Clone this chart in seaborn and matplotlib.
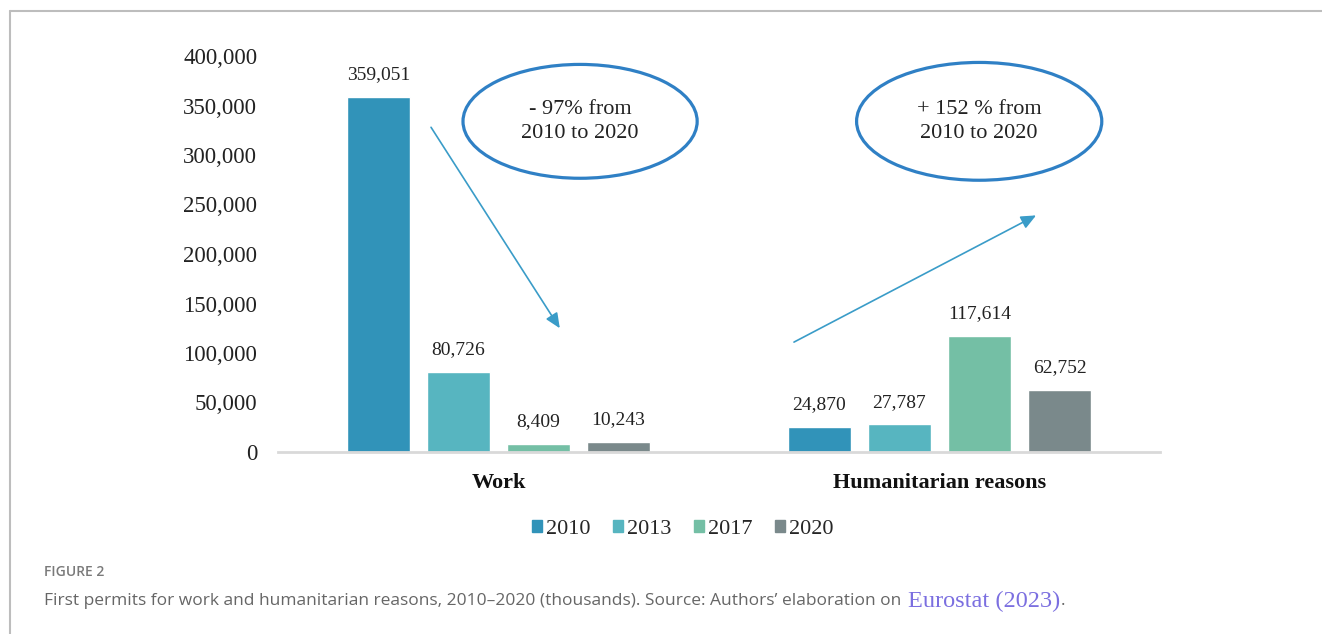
import numpy as np
import pandas as pd
import matplotlib
matplotlib.use('Agg')
import matplotlib.pyplot as plt
from matplotlib.patches import Ellipse
from matplotlib.lines import Line2D
import seaborn as sns

sns.set_style('white')
plt.rcParams['font.family'] = ['Liberation Serif', 'DejaVu Serif']

# %% Data
categories = ['Work', 'Humanitarian reasons']
years = ['2010', '2013', '2017', '2020']
work_values = [359051, 80726, 8409, 10243]
humanitarian_values = [24870, 27787, 117614, 62752]
year_colors = ['#3193b9', '#57b5c0', '#74bfa5', '#7a898b']

rows = []
for cat, vals in zip(categories, [work_values, humanitarian_values]):
    for yr, v in zip(years, vals):
        rows.append([cat, yr, v])
df = pd.DataFrame(rows, columns=['reason', 'year', 'permits'])

# %% Figure
W, H = 1322, 634
fig = plt.figure(figsize=(W / 100, H / 100), dpi=100)
ax = fig.add_axes([278 / W, 1 - 452 / H, 882 / W, 396 / H])

sns.barplot(data=df, x='reason', y='permits', hue='year', order=categories,
            hue_order=years, palette=year_colors, width=0.726, gap=0.21,
            saturation=1, ax=ax)

for cont in ax.containers:
    ax.bar_label(cont, labels=['{:,}'.format(int(v)) for v in cont.datavalues],
                 padding=10, fontsize=14, color='#222222')

ax.set_ylim(0, 400000)
ax.set_xlim(-0.5, 1.5)
ax.set_yticks(np.arange(0, 400001, 50000))
ax.set_yticklabels(['{:,}'.format(v) for v in range(0, 400001, 50000)], fontsize=16.5)
ax.tick_params(axis='y', length=0, pad=15, labelcolor='#222222')
ax.tick_params(axis='x', length=0, pad=15)
for lab in ax.get_xticklabels():
    lab.set_fontweight('bold')
    lab.set_fontsize(16)
    lab.set_color('#111111')
ax.set_xlabel('')
ax.set_ylabel('')
sns.despine(ax=ax, left=True)
ax.spines['bottom'].set_color('#d9d9d9')
ax.spines['bottom'].set_linewidth(2)

# legend
handles = [plt.Rectangle((0, 0), 1, 1, color=c) for c in year_colors]
ax.legend(handles, years, loc='center', bbox_to_anchor=(0.459, -0.196),
          ncol=4, frameon=False, fontsize=16, handlelength=0.45,
          handleheight=0.45, handletextpad=0.2, columnspacing=1.0)

# %% Annotations: ellipses and trend arrows
ell_color = '#2f80c5'
ax.add_patch(Ellipse((0.185, 334000), 0.531, 115000, fill=False,
                     edgecolor=ell_color, linewidth=2.3, clip_on=False))
ax.add_patch(Ellipse((1.090, 334000), 0.556, 119000, fill=False,
                     edgecolor=ell_color, linewidth=2.3, clip_on=False))
ax.text(0.185, 334000, '- 97% from\n2010 to 2020', ha='center', va='center',
        fontsize=16, color='#222222', linespacing=1.4)
ax.text(1.090, 334000, '+ 152 % from\n2010 to 2020', ha='center', va='center',
        fontsize=16, color='#222222', linespacing=1.4)

arrow_color = '#3a9cc8'
ax.annotate('', xy=(0.139, 125000), xytext=(-0.153, 328000),
            arrowprops=dict(arrowstyle='-|>,head_length=0.9,head_width=0.4',
                            color=arrow_color, lw=1.2, shrinkA=0, shrinkB=0))
ax.annotate('', xy=(1.219, 239000), xytext=(0.670, 111000),
            arrowprops=dict(arrowstyle='-|>,head_length=0.9,head_width=0.4',
                            color=arrow_color, lw=1.2, shrinkA=0, shrinkB=0))

# %% Frame lines and caption
fig.add_artist(Line2D([10 / W, 1], [1 - 11 / H, 1 - 11 / H], color='#bdbdbd', lw=1.5))
fig.add_artist(Line2D([10 / W, 10 / W], [0, 1 - 11 / H], color='#bdbdbd', lw=1.5))

fig.text(44 / W, 1 - 572 / H, 'FIGURE 2', fontsize=10, color='#7a7a7a',
         family=['Open Sans', 'DejaVu Sans'], fontweight='semibold', va='center')
cap = fig.text(44 / W, 1 - 601 / H,
               'First permits for work and humanitarian reasons, 2010\u20132020 (thousands). '
               'Source: Authors\u2019 elaboration on ',
               fontsize=12.5, color='#666666', family=['Open Sans', 'DejaVu Sans'], va='center')
fig.canvas.draw()
bb = cap.get_window_extent()
src = fig.text((bb.x1 + 2) / W, 1 - 601 / H, 'Eurostat (2023)', fontsize=17.5,
               color='#7b6fe0', va='center')
fig.canvas.draw()
bb2 = src.get_window_extent()
fig.text((bb2.x1 + 1) / W, 1 - 601 / H, '.', fontsize=12.5, color='#666666',
         family=['Open Sans', 'DejaVu Sans'], va='center')

fig.savefig('out.png', dpi=100)
